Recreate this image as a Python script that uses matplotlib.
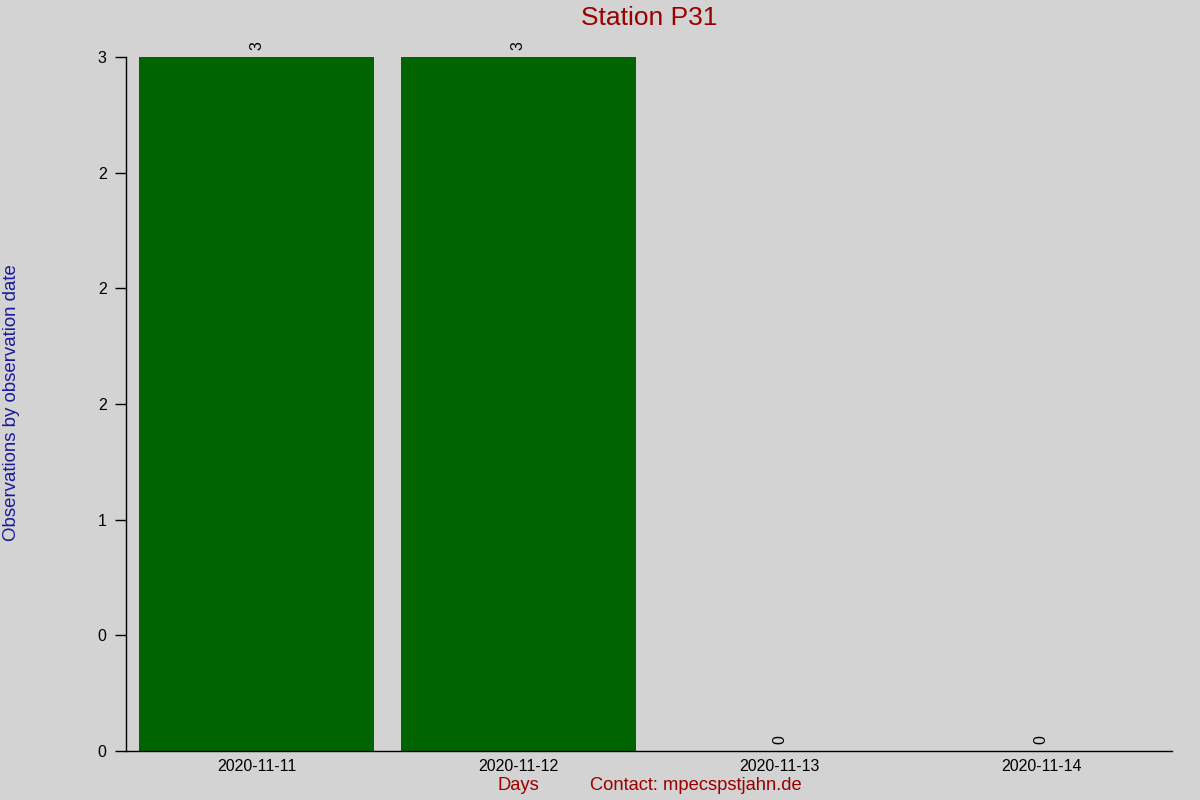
import matplotlib
matplotlib.use("Agg")
import matplotlib.pyplot as plt
from matplotlib.ticker import FormatStrFormatter, MultipleLocator

days = ["2020-11-11", "2020-11-12", "2020-11-13", "2020-11-14"]
counts = [3, 3, 0, 0]
title = "Station P31"
ylabel = "Observations by observation date"
xlabel = "Days"
contact = "Contact: mpecspstjahn.de"

plt.rcParams['font.family'] = ['Liberation Sans', 'DejaVu Sans']

W, H = 1200, 800
fig = plt.figure(figsize=(12, 8), dpi=100, facecolor='#d3d3d3')
ax = fig.add_axes([126 / W, 1 - 751 / H, (1172 - 126) / W, (751 - 57) / H])
ax.set_facecolor('#d3d3d3')

x = list(range(len(days)))
bars = ax.bar(x, counts, width=0.9, color='#006400')
ax.set_xlim(-0.5, len(days) - 0.5)
ax.set_ylim(0, max(counts))

for xi, v in zip(x, counts):
    ax.annotate(str(v), (xi, v), xytext=(0, 5), textcoords='offset points',
                rotation=90, ha='center', va='bottom', fontsize=11.5, color='black')

ax.set_xticks(x)
ax.set_xticklabels(days)
ax.yaxis.set_major_locator(MultipleLocator(0.5))
ax.yaxis.set_major_formatter(FormatStrFormatter('%.0f'))
ax.tick_params(axis='y', length=8, width=1, pad=6, labelsize=11.5, colors='black')
ax.tick_params(axis='x', length=0, pad=6, labelsize=11.5, colors='black')

for s in ['top', 'right']:
    ax.spines[s].set_visible(False)
for s in ['left', 'bottom']:
    ax.spines[s].set_color('black')
    ax.spines[s].set_linewidth(1)

fig.text(649 / W, 1 - 18 / H, title, ha='center', va='center', fontsize=19, color='#990000')
fig.text(12 / W, 1 - 403 / H, ylabel, ha='center', va='center', rotation=90,
         fontsize=13.4, color='#1a1a9a')
fig.text(518 / W, 1 - 786 / H, xlabel, ha='center', va='center', fontsize=13.2, color='#990000')
fig.text(590 / W, 1 - 786 / H, contact, ha='left', va='center', fontsize=13.2, color='#990000')

fig.savefig('out.png', dpi=100, facecolor=fig.get_facecolor())
